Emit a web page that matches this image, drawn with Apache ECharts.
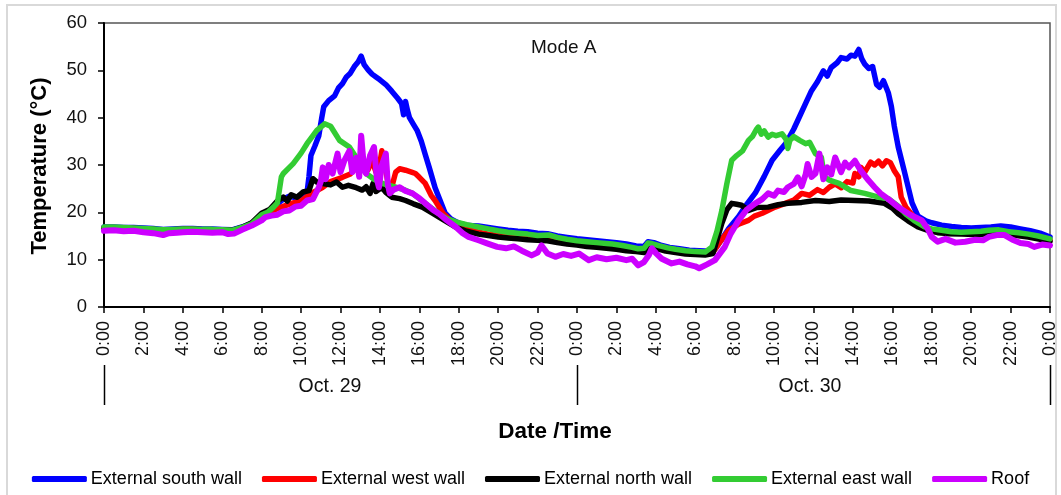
<!DOCTYPE html>
<html>
<head>
<meta charset="utf-8">
<script src="https://cdn.jsdelivr.net/npm/echarts@6/dist/echarts.min.js"></script>
<style>
  html, body { margin: 0; padding: 0; background: #fff; }
  #chart { width: 1061px; height: 495px; }
</style>
</head>
<body>
<div id="chart"></div>
<script>
// Surface temperatures over two days, [hour since Oct. 29 0:00, °C]
const seriesNames = ['External south wall', 'External west wall', 'External north wall', 'External east wall', 'Roof'];
const seriesColors = ['#0000FF', '#FF0000', '#000000', '#33CC33', '#CC00FF'];

const southWall = [[0,16.9],[0.5,16.9],[1,16.8],[1.5,16.8],[2,16.7],[2.5,16.6],[3,16.4],[3.5,16.5],[4,16.6],[4.5,16.6],[5,16.5],[5.5,16.5],[6,16.4],[6.5,16.3],[7,16.9],[7.5,17.7],[8,19.2],[8.4,20.4],[8.8,21.8],[9.1,22.8],[9.4,23.4],[9.7,23.1],[10,23.6],[10.3,24.1],[10.4,27.5],[10.5,32],[10.7,34],[10.9,36.2],[11.05,40],[11.15,42.3],[11.4,43.6],[11.7,44.6],[11.9,46.3],[12.1,47.2],[12.3,48.6],[12.5,49.4],[12.7,50.8],[12.9,51.8],[13.05,53],[13.2,51.2],[13.4,50.1],[13.6,49.2],[13.8,48.6],[14.0,48.0],[14.3,47.0],[14.6,45.6],[14.9,44.1],[15.1,43.0],[15.2,40.6],[15.3,43.4],[15.4,41.5],[15.5,40],[15.7,38.6],[15.9,37.2],[16.1,35],[16.3,32.2],[16.5,29.5],[16.8,25.2],[17.0,23.1],[17.3,19.9],[17.6,18.6],[18,17.7],[18.5,17.2],[19,17.1],[19.5,16.8],[20,16.5],[20.5,16.2],[21,16.0],[21.5,15.9],[22,15.6],[22.5,15.5],[23,15.0],[23.5,14.7],[24,14.4],[24.5,14.2],[25,14.0],[25.5,13.8],[26,13.6],[26.5,13.3],[27,12.9],[27.4,12.8],[27.6,13.8],[27.9,13.6],[28.3,13.0],[28.7,12.6],[29.2,12.3],[29.7,12.0],[30.2,11.9],[30.7,11.8],[31.0,12.2],[31.3,14],[31.7,16.6],[32.2,19.1],[32.6,21.6],[33.05,24.1],[33.5,27.6],[33.9,31],[34.3,33.1],[34.6,34.6],[35.0,37.6],[35.2,39.4],[35.6,43],[35.9,45.7],[36.2,47.6],[36.5,49.9],[36.7,48.8],[36.9,50.6],[37.2,51.6],[37.4,52.7],[37.7,52.4],[37.9,53.2],[38.1,53.0],[38.3,54.4],[38.45,52.4],[38.6,51.3],[38.8,50.4],[39.0,50.8],[39.2,47],[39.35,46.4],[39.55,47.8],[39.8,45.2],[39.95,42.4],[40.1,38.2],[40.3,33.8],[40.6,28.8],[41.0,22],[41.3,19.2],[41.7,18.2],[42,17.8],[42.5,17.3],[43,17.0],[43.5,16.8],[44,16.7],[44.5,16.8],[45,16.9],[45.5,17.1],[46,16.9],[46.5,16.5],[47,16.1],[47.5,15.6],[48,14.8]];

const westWall = [[0,16.7],[0.5,16.7],[1,16.6],[1.5,16.6],[2,16.5],[2.5,16.4],[3,16.2],[3.5,16.3],[4,16.4],[4.5,16.4],[5,16.3],[5.5,16.3],[6,16.2],[6.5,16.1],[7,16.6],[7.5,17.4],[8,19.2],[8.4,20.0],[8.8,20.8],[9.2,21.4],[9.6,22],[10,22.4],[10.5,24],[10.8,24.6],[11.1,25.3],[11.5,26.5],[12.1,27.4],[12.5,28.1],[12.8,29.5],[13.0,28.9],[13.2,30.4],[13.4,29],[13.6,31],[13.8,28.5],[14.0,30.5],[14.1,33],[14.25,30],[14.4,26.5],[14.6,25.3],[14.8,28.5],[15.0,29.2],[15.3,28.9],[15.6,28.5],[15.8,28.2],[16.0,27.4],[16.3,26.1],[16.6,23.6],[16.8,22.5],[17.2,19.8],[17.6,18.2],[18,17.2],[18.5,16.4],[19,15.8],[19.5,15.4],[20,15.1],[20.5,14.9],[21,14.7],[21.5,14.5],[22,14.4],[22.5,14.2],[23,13.9],[23.5,13.6],[24,13.4],[24.5,13.1],[25,12.9],[25.5,12.7],[26,12.5],[26.5,12.2],[27,11.9],[27.4,11.8],[27.7,12.9],[28,12.6],[28.5,12.0],[29,11.7],[29.5,11.4],[30,11.3],[30.5,11.2],[30.9,11.6],[31.3,14],[31.7,16.2],[32.2,17.5],[32.7,18.3],[33.0,19.2],[33.4,19.8],[34.05,21.1],[34.5,21.8],[35.0,22.6],[35.4,24],[35.8,23.6],[36.2,24.8],[36.5,24.2],[36.8,25.3],[37.1,26],[37.4,25.2],[37.7,26.5],[38.0,26.2],[38.1,28.2],[38.3,27.5],[38.4,29.5],[38.6,28.5],[38.9,30.6],[39.1,30],[39.3,30.8],[39.5,29.8],[39.7,30.9],[39.9,30.5],[40.1,28.8],[40.3,27.5],[40.45,23.2],[40.7,21],[41.0,19.5],[41.3,17.8],[41.7,16.8],[42,16.3],[42.5,15.9],[43,15.7],[43.5,15.6],[44,15.6],[44.5,15.7],[45,15.8],[45.5,15.9],[46,15.6],[46.5,15.3],[47,15.0],[47.5,14.6],[48,14.1]];

const northWall = [[0,16.7],[0.5,16.7],[1,16.6],[1.5,16.6],[2,16.5],[2.5,16.4],[3,16.2],[3.5,16.3],[4,16.4],[4.5,16.4],[5,16.3],[5.5,16.3],[6,16.2],[6.5,16.2],[7,16.8],[7.5,17.8],[8,19.8],[8.4,20.6],[8.8,22.4],[9.1,23.2],[9.3,22.4],[9.5,23.7],[9.8,23.2],[10.1,24.3],[10.4,24.6],[10.6,27.1],[10.8,26.4],[11.1,26.1],[11.5,25.8],[11.8,26.4],[12.1,25.3],[12.4,25.7],[12.8,25.2],[13.1,24.7],[13.3,25.4],[13.5,24.0],[13.65,26.1],[13.8,24.4],[14.1,25.3],[14.3,24.2],[14.6,23.2],[15.0,22.9],[15.3,22.5],[15.7,21.8],[16.15,21.1],[16.6,20],[17.0,19.0],[17.4,18.0],[17.85,16.9],[18.4,16.0],[19,15.4],[19.5,15.1],[20,14.8],[20.5,14.6],[21,14.4],[21.5,14.2],[22,14.1],[22.5,14.0],[23,13.6],[23.5,13.3],[24,13.1],[24.5,12.8],[25,12.6],[25.5,12.4],[26,12.2],[26.5,11.9],[27,11.7],[27.4,11.5],[27.7,12.6],[28,12.4],[28.5,11.8],[29,11.5],[29.5,11.2],[30,11.1],[30.5,11.0],[30.9,11.3],[31.35,17.7],[31.6,20.5],[31.85,21.9],[32.1,21.7],[32.35,21.5],[32.7,20.4],[33.1,21.0],[33.7,21.1],[34.2,21.6],[34.7,21.9],[35.4,22.1],[36.1,22.5],[36.8,22.3],[37.4,22.6],[38.1,22.5],[38.8,22.4],[39.6,21.9],[40.0,20.9],[40.3,19.7],[40.8,18.2],[41.3,16.9],[41.8,16.2],[42.3,15.7],[42.8,15.5],[43.5,15.4],[44.2,15.3],[44.8,15.4],[45.4,15.5],[46,15.3],[46.5,15.0],[46.9,14.8],[47.5,14.3],[48,13.8]];

const eastWall = [[0,16.9],[0.5,16.9],[1,16.8],[1.5,16.7],[2,16.6],[2.5,16.5],[3,16.3],[3.5,16.4],[4,16.5],[4.5,16.5],[5,16.4],[5.5,16.4],[6,16.3],[6.5,16.2],[7,16.8],[7.5,17.6],[8,19.5],[8.3,20.0],[8.6,21.1],[8.8,22],[9.0,27.5],[9.1,28.2],[9.6,30.3],[10.0,32.5],[10.3,34.5],[10.8,37.3],[11.2,38.7],[11.5,38.2],[11.95,35.2],[12.45,33.8],[12.8,31.6],[13.0,30],[13.3,28.2],[13.7,27],[14.2,26],[14.8,25.3],[15.2,24.8],[15.65,24],[16.3,21.9],[17.0,19.7],[17.4,18.7],[17.85,18],[18.4,17.4],[19.0,16.9],[19.5,16.5],[20,16.1],[20.5,15.8],[21,15.6],[21.5,15.4],[22,15.1],[22.6,15.2],[23,14.7],[23.5,14.3],[24,14.0],[24.5,13.8],[25,13.6],[25.5,13.4],[25.8,13.3],[26.3,13.0],[26.8,12.6],[27.1,12.3],[27.4,12.4],[27.6,13.5],[27.8,13.4],[28.2,12.9],[28.6,12.5],[29,12.2],[29.5,11.9],[30,11.7],[30.5,11.6],[30.85,12.7],[31.1,16],[31.35,20.4],[31.6,26],[31.85,31],[32.1,32],[32.4,33],[32.7,35.2],[32.9,36],[33.1,37.5],[33.2,38],[33.35,36.5],[33.5,37.2],[33.7,35.9],[33.9,36.5],[34.1,36.2],[34.4,36.6],[34.6,35.5],[34.7,33.5],[34.8,35.2],[35.0,36],[35.3,35.2],[35.6,34.5],[35.8,34.8],[36.1,32.4],[36.4,31.6],[36.55,27.5],[36.8,26.8],[37.3,26.1],[37.9,24.6],[38.6,24],[39.3,23.2],[39.8,22.9],[40.3,21.3],[40.7,19.6],[41.1,18.3],[41.6,17],[42.0,16.5],[42.5,16.2],[43,15.9],[43.5,15.8],[44,15.9],[44.5,16.0],[44.9,16.2],[45.4,16.3],[45.9,15.9],[46.4,15.7],[46.9,15.4],[47.4,15.0],[48,14.4]];

const roof = [[0,16.1],[0.5,16.2],[1,16.0],[1.5,16.1],[2,15.8],[2.5,15.6],[3,15.2],[3.3,15.6],[3.7,15.7],[4,15.8],[4.5,15.9],[5,15.8],[5.5,15.7],[6,15.8],[6.3,15.4],[6.6,15.5],[7,16.3],[7.5,17.2],[8,18.3],[8.2,19],[8.5,19.3],[8.8,19.5],[9.1,20.2],[9.4,20.4],[9.7,21.2],[10.0,21.4],[10.3,22.5],[10.6,22.8],[10.9,25.3],[11.0,26.5],[11.1,29.5],[11.25,27],[11.4,30],[11.6,28.2],[11.85,32.4],[12.0,28.5],[12.2,31],[12.45,33],[12.6,28.5],[12.8,31.5],[12.95,27.5],[13.05,36.2],[13.2,29],[13.3,28.2],[13.5,32],[13.7,33.8],[13.85,27],[13.95,25.3],[14.1,30],[14.3,32.4],[14.4,26],[14.5,24],[14.7,24.8],[15.0,25.3],[15.3,24.5],[15.65,24],[16.0,23],[16.3,21.9],[16.7,20.5],[17.0,19.7],[17.4,18.3],[17.85,16.9],[18.2,15.6],[18.5,14.8],[19.0,14.1],[19.4,13.5],[19.95,12.7],[20.4,12.4],[20.8,12.8],[21.2,11.9],[21.7,10.9],[22.0,11.5],[22.2,13.0],[22.5,11.3],[22.9,10.6],[23.3,11.2],[23.7,10.8],[24.1,11.3],[24.6,9.9],[25.0,10.5],[25.5,10.1],[26.0,10.4],[26.5,9.9],[26.8,10.2],[27.1,8.8],[27.4,9.5],[27.65,11.0],[27.8,12.4],[28.0,11.4],[28.3,10.2],[28.8,9.2],[29.2,9.6],[29.6,9.0],[30.0,8.6],[30.2,8.2],[30.6,9.0],[31.0,9.9],[31.5,12.7],[31.8,15.5],[32.2,18.3],[32.6,20.5],[33.05,21.9],[33.4,22.8],[33.7,24],[34.0,23.5],[34.2,24.6],[34.5,24.3],[34.7,25.3],[35.0,26],[35.2,27.4],[35.4,25.5],[35.6,28],[35.7,30.2],[35.9,27.5],[36.1,28.2],[36.3,32.4],[36.5,27],[36.7,29.5],[36.9,28],[37.1,31.6],[37.2,32.0],[37.4,28.5],[37.6,30.5],[37.8,29.5],[38.1,30.9],[38.4,28.8],[38.8,26.7],[39.1,25.3],[39.4,24],[39.8,22.8],[40.3,21.1],[40.9,19.5],[41.5,18.3],[41.8,16.5],[42.0,14.8],[42.3,13.8],[42.7,14.4],[43.2,13.6],[43.7,13.8],[44.2,14.2],[44.6,14.1],[44.9,14.8],[45.3,15.2],[45.7,15.2],[46.1,14.2],[46.5,13.5],[46.9,13.3],[47.2,12.7],[47.6,13.2],[48,13.0]];

const seriesData = [southWall, westWall, northWall, eastWall, roof];

// Axis ranges and the day spans shown under the time axis
const hourMin = 0, hourMax = 48, hourStep = 2;
const tempMin = 0, tempMax = 60, tempStep = 10;
const dayLabels = ['Oct. 29', 'Oct. 30'];
const dayBounds = [0, 24, 48];

const FONT = 'Arial, "Liberation Sans", sans-serif';
const chart = echarts.init(document.getElementById('chart'), null, { renderer: 'canvas' });

const option = {
  animation: false,
  backgroundColor: '#fff',
  textStyle: { fontFamily: FONT },
  grid: {
    left: 104, right: 11, top: 23, bottom: 188,
    show: true, borderColor: '#555', borderWidth: 1.5, backgroundColor: 'transparent'
  },
  xAxis: {
    type: 'value', min: hourMin, max: hourMax, interval: hourStep,
    axisLine: { show: true, onZero: false, lineStyle: { color: '#000', width: 2 } },
    axisTick: { show: true, inside: false, length: 6, lineStyle: { color: '#000', width: 1.5 } },
    splitLine: { show: false },
    axisLabel: {
      rotate: 90, margin: 14, fontSize: 18, color: '#111', fontFamily: FONT,
      showMinLabel: true, showMaxLabel: true,
      formatter: v => (v % 24) + ':00'
    }
  },
  yAxis: {
    type: 'value', min: tempMin, max: tempMax, interval: tempStep,
    axisLine: { show: true, lineStyle: { color: '#000', width: 2 } },
    axisTick: { show: true, inside: false, length: 6, lineStyle: { color: '#000', width: 1.5 } },
    splitLine: { show: false },
    axisLabel: { margin: 17, fontSize: 18.5, color: '#111', fontFamily: FONT }
  },
  legend: {
    top: 465, left: 'center',
    itemWidth: 55, itemHeight: 6, itemGap: 20,
    icon: 'roundRect',
    textStyle: { fontSize: 18, color: '#000', fontFamily: FONT, padding: [0, 0, 0, -1] },
    data: seriesNames
  },
  series: seriesNames.map((name, i) => ({
    name, type: 'line', data: seriesData[i],
    symbol: 'none', smooth: false,
    color: seriesColors[i],
    lineStyle: { color: seriesColors[i], width: i === 4 ? 6 : 5.5, join: 'round', cap: 'round' },
    z: 2 + i
  }))
};
chart.setOption(option);

// Day separators and captions under the rotated hour labels
const px = h => chart.convertToPixel({ xAxisIndex: 0 }, h);
const graphics = [
  { type: 'rect', silent: true, shape: { x: 7, y: 5, width: 1049, height: 500 },
    style: { fill: 'none', stroke: '#d9d9d9', lineWidth: 2 } },
  { type: 'text', left: 531, top: 38,
    style: { text: 'Mode A', fontSize: 19, fontFamily: FONT, fill: '#111' } },
  { type: 'text', x: 40, y: 166, rotation: Math.PI / 2,
    style: { text: 'Temperature (°C)', fontSize: 22, fontWeight: 'bold', fontFamily: FONT,
             fill: '#000', align: 'center', verticalAlign: 'middle' } },
  { type: 'text', x: 555, y: 432,
    style: { text: 'Date /Time', fontSize: 22.5, fontWeight: 'bold', fontFamily: FONT,
             fill: '#000', align: 'center', verticalAlign: 'middle' } }
];
dayBounds.forEach(h => {
  const x = Math.round(px(h)) + 0.5;
  graphics.push({ type: 'line', silent: true, shape: { x1: x, y1: 365, x2: x, y2: 405 },
    style: { stroke: '#000', lineWidth: 1.5 } });
});
const dayCaptionX = [330, 810];
dayLabels.forEach((t, i) => {
  graphics.push({ type: 'text', x: dayCaptionX[i], y: 387,
    style: { text: t, fontSize: 19.5, fontFamily: FONT, fill: '#111', align: 'center', verticalAlign: 'middle' } });
});
chart.setOption({ graphic: graphics });
</script>
</body>
</html>
